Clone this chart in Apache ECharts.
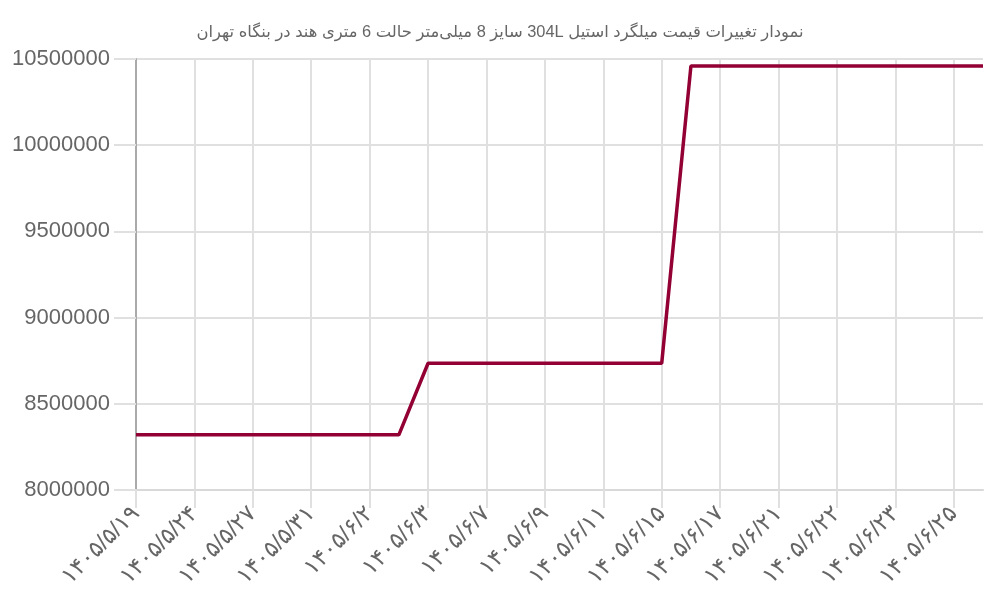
<!DOCTYPE html>
<html>
<head>
<meta charset="utf-8">
<script src="https://cdn.jsdelivr.net/npm/echarts@6/dist/echarts.min.js"></script>
<style>
  html, body { margin: 0; padding: 0; background: #fff; }
  #main { width: 1000px; height: 600px; }
</style>
</head>
<body>
<div id="main"></div>
<script>
const titleText = 'نمودار تغییرات قیمت میلگرد استیل 304L سایز 8 میلی‌متر حالت 6 متری هند در بنگاه تهران'

// dates (every other one is shown on the axis)
const dates = [
  '۱۴۰۵/۵/۱۹', '۱۴۰۵/۵/۲۲', '۱۴۰۵/۵/۲۴', '۱۴۰۵/۵/۲۶', '۱۴۰۵/۵/۲۷', '۱۴۰۵/۵/۲۹',
  '۱۴۰۵/۵/۳۱', '۱۴۰۵/۶/۱', '۱۴۰۵/۶/۲', '۱۴۰۵/۶/۲', '۱۴۰۵/۶/۳', '۱۴۰۵/۶/۵',
  '۱۴۰۵/۶/۷', '۱۴۰۵/۶/۸', '۱۴۰۵/۶/۹', '۱۴۰۵/۶/۱۰', '۱۴۰۵/۶/۱۱', '۱۴۰۵/۶/۱۴',
  '۱۴۰۵/۶/۱۵', '۱۴۰۵/۶/۱۶', '۱۴۰۵/۶/۱۷', '۱۴۰۵/۶/۱۸', '۱۴۰۵/۶/۲۱', '۱۴۰۵/۶/۲۱',
  '۱۴۰۵/۶/۲۲', '۱۴۰۵/۶/۲۲', '۱۴۰۵/۶/۲۳', '۱۴۰۵/۶/۲۴', '۱۴۰۵/۶/۲۵', '۱۴۰۵/۶/۲۶'
]

const prices = [
  8320000, 8320000, 8320000, 8320000, 8320000, 8320000, 8320000, 8320000, 8320000, 8320000,
  8735000, 8735000, 8735000, 8735000, 8735000, 8735000, 8735000, 8735000, 8735000,
  10460000, 10460000, 10460000, 10460000, 10460000, 10460000, 10460000, 10460000, 10460000, 10460000, 10460000
]

const yMin = 8000000
const yMax = 10500000
const yStep = 500000

const font = '"Liberation Sans", "DejaVu Sans", sans-serif'

const myChart = echarts.init(document.querySelector('#main'))

const option = {
  animation: false,
  textStyle: { fontFamily: font },
  title: {
    // RLE ... PDF so the persian title is laid out right to left
    text: '\u202B' + titleText + '\u202C',
    left: 'center',
    top: 19,
    textStyle: { fontSize: 16.4, fontWeight: 'normal', color: '#666', fontFamily: font }
  },
  grid: { left: 136, right: 17, top: 59, bottom: 110, outerBoundsMode: 'none' },
  xAxis: {
    type: 'category',
    data: dates,
    boundaryGap: false,
    axisLine: { lineStyle: { color: '#d9d9d9', width: 2 } },
    axisTick: { interval: 1, length: 18, lineStyle: { color: '#e0e0e0', width: 2 } },
    splitLine: { show: true, interval: 1, lineStyle: { color: '#e0e0e0', width: 2 } },
    axisLabel: {
      interval: 1,
      rotate: 45,
      margin: 20,
      fontSize: 23,
      color: '#666'
    }
  },
  yAxis: {
    type: 'value',
    min: yMin,
    max: yMax,
    interval: yStep,
    axisLine: { show: true, lineStyle: { color: '#aaa', width: 2 } },
    axisTick: { show: true, length: 22, lineStyle: { color: '#e0e0e0', width: 2 } },
    splitLine: { lineStyle: { color: '#e0e0e0', width: 2 } },
    axisLabel: { fontSize: 22, color: '#666', margin: 26, formatter: v => String(v) }
  },
  series: [
    {
      type: 'line',
      data: prices,
      symbol: 'none',
      lineStyle: { color: '#930034', width: 3.5 },
      itemStyle: { color: '#930034' }
    }
  ]
}

myChart.setOption(option)
</script>
</body>
</html>
